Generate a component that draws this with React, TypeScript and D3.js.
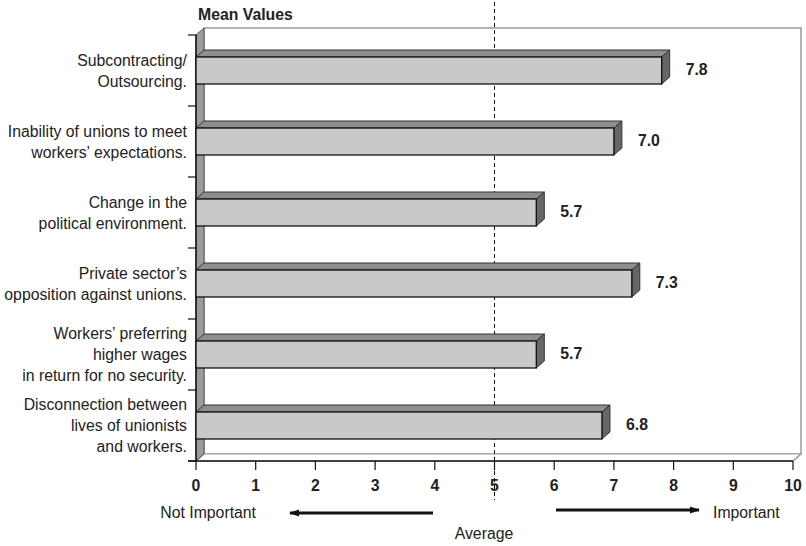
import React from 'react';
import * as d3 from 'd3';

const categories = [
  'Subcontracting/\nOutsourcing.',
  'Inability of unions to meet\nworkers\u2019 expectations.',
  'Change in the\npolitical environment.',
  'Private sector\u2019s\nopposition against unions.',
  'Workers\u2019 preferring\nhigher wages\nin return for no security.',
  'Disconnection between\nlives of unionists\nand workers.',
];
const meanValues = [7.8, 7.0, 5.7, 7.3, 5.7, 6.8];
const xTicks = [0, 1, 2, 3, 4, 5, 6, 7, 8, 9, 10];
const averageValue = 5;

const W = 806;
const H = 546;
const font = '"Liberation Sans", Arial, Helvetica, sans-serif';
const fs = 15.8;
// 3d depth offset
const dx = 8;
const dy = 7;

export default function App() {
  const x = d3.scaleLinear().domain([0, 10]).range([196, 793]);
  const y = d3.scaleBand<string>().domain(categories).range([35, 461])
    .paddingInner(0.62).paddingOuter(0.31);
  const step = y.step();
  const bw = y.bandwidth();
  const x0 = x(0);
  const yTop = 35;
  const yBot = 461;
  const boundaries = d3.range(categories.length + 1).map(i => yTop + i * step);
  const avgX = x(averageValue);

  return (
    <svg width={W} height={H} style={{ position: 'absolute', left: 0, top: 0 }}
      fontFamily={font}>
      <rect width={W} height={H} fill='#ffffff'/>

      {/* title */}
      <text x={198} y={20} fontSize={fs} fontWeight='bold' fill='#222'>Mean Values</text>

      {/* back wall */}
      <rect x={x0 + dx} y={yTop - dy} width={x(10) - x0} height={yBot - yTop}
        fill='#ffffff' stroke='#9a9a9a' strokeWidth={1.5}/>

      {/* floor */}
      <path d={`M${x0},${yBot}L${x0 + dx},${yBot - dy}L${x(10) + dx},${yBot - dy}L${x(10)},${yBot}Z`}
        fill='#ffffff' stroke='#a0a0a0' strokeWidth={1.2}/>

      {/* left wall */}
      <path d={`M${x0},${yTop}L${x0 + dx},${yTop - dy}L${x0 + dx},${yBot - dy}L${x0},${yBot}Z`}
        fill='#9c9c9c' stroke='#555' strokeWidth={1}/>

      {/* left axis */}
      <line x1={x0} y1={yTop} x2={x0} y2={yBot} stroke='#111' strokeWidth={1.5}/>
      {boundaries.map(b => (
        <line key={b} x1={188} y1={b} x2={x0} y2={b} stroke='#111' strokeWidth={1.2}/>
      ))}

      {/* average line */}
      <line x1={avgX} y1={2} x2={avgX} y2={500} stroke='#111' strokeWidth={1}
        strokeDasharray='4,3'/>

      {/* bars */}
      {categories.map((c, i) => {
        const yb = y(c)!;
        const xe = x(meanValues[i]);
        return (
          <g key={c}>
            <path d={`M${x0},${yb}L${x0 + dx},${yb - dy}L${xe + dx},${yb - dy}L${xe},${yb}Z`}
              fill='#8e8e8e' stroke='#333' strokeWidth={1} strokeLinejoin='round'/>
            <path d={`M${xe},${yb}L${xe + dx},${yb - dy}L${xe + dx},${yb + bw - dy}L${xe},${yb + bw}Z`}
              fill='#666666' stroke='#333' strokeWidth={1} strokeLinejoin='round'/>
            <rect x={x0} y={yb} width={xe - x0} height={bw}
              fill='#c8c9cb' stroke='#111' strokeWidth={1.3}/>
            <text x={xe + 24} y={yb + bw / 2 - 1} dy='0.35em' fontSize={fs}
              fontWeight='bold' fill='#222'>{meanValues[i].toFixed(1)}</text>
          </g>
        );
      })}

      {/* category labels */}
      {categories.map(c => {
        const lines = c.split('\n');
        const cy = y(c)! + bw / 2;
        const lh = 21;
        return (
          <text key={c} fontSize={fs} fill='#222' textAnchor='end'>
            {lines.map((l, j) => (
              <tspan key={j} x={187} y={cy + (j - (lines.length - 1) / 2) * lh} dy='0.35em'>{l}</tspan>
            ))}
          </text>
        );
      })}

      {/* x axis */}
      <line x1={188} y1={yBot} x2={x(10)} y2={yBot} stroke='#111' strokeWidth={1.5}/>
      <path d={`M${x(10)},${yBot}L${x(10) + dx},${yBot - dy}`} stroke='#a0a0a0' strokeWidth={1.2}/>
      {xTicks.map(t => (
        <g key={t}>
          <line x1={x(t)} y1={yBot} x2={x(t)} y2={yBot + 9} stroke='#111' strokeWidth={1.2}/>
          <text x={x(t)} y={491} textAnchor='middle' fontSize={fs} fontWeight='bold' fill='#222'>{t}</text>
        </g>
      ))}

      {/* bottom annotations */}
      <defs>
        <marker id='arrowhead' viewBox='0 0 10 10' refX={9} refY={5} markerWidth={3.4}
          markerHeight={3.4} orient='auto'>
          <path d='M0,1.5L10,5L0,8.5Z' fill='#111'/>
        </marker>
      </defs>
      <text x={256} y={518} textAnchor='end' fontSize={fs} fill='#222'>Not Important</text>
      <line x1={433} y1={513} x2={290} y2={513} stroke='#111' strokeWidth={3}
        markerEnd='url(#arrowhead)'/>
      <line x1={556} y1={510} x2={699} y2={510} stroke='#111' strokeWidth={3}
        markerEnd='url(#arrowhead)'/>
      <text x={713} y={518} fontSize={fs} fill='#222'>Important</text>
      <text x={484} y={539} textAnchor='middle' fontSize={fs} fill='#222'>Average</text>
    </svg>
  );
}
